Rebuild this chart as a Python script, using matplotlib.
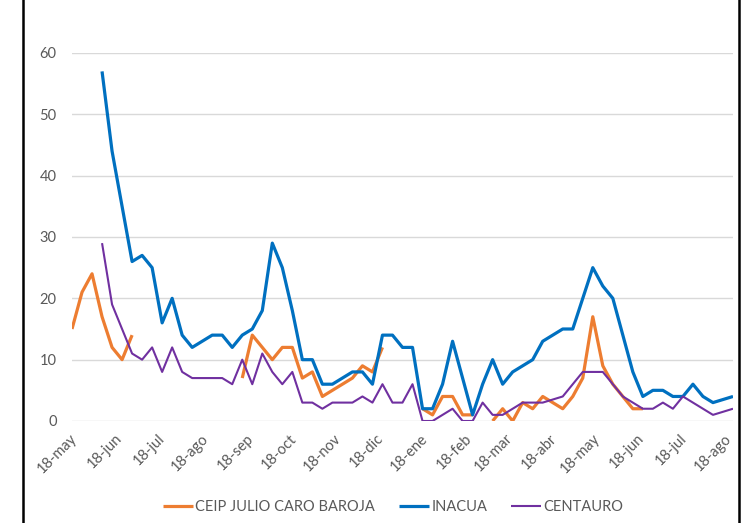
import numpy as np
import matplotlib
matplotlib.use("Agg")
import matplotlib.pyplot as plt
from matplotlib.lines import Line2D
from matplotlib.transforms import ScaledTranslation

nan = np.nan

# weekly readings, first week on 18 May
START = "2018-05-18"
N_WEEKS = 67

ceip = [15, 21, 24, 17, 12, 10, 14,
        nan, nan, nan, nan, nan, nan, nan, nan, nan, nan,
        7, 14, 12, 10, 12, 12, 7, 8, 4, 5, 6, 7, 9, 8, 12,
        nan, nan, nan,
        2, 1, 4, 4, 1, 1,
        nan,
        0, 2, 0, 3, 2, 4, 3, 2, 4, 7, 17, 9, 6, 4, 2, 2,
        nan, nan, nan, nan, nan, nan, nan, nan, nan]

inacua = [nan, nan, nan,
          57, 44, 35, 26, 27, 25, 16, 20, 14, 12, 13, 14, 14, 12, 14, 15, 18,
          29, 25, 18, 10, 10, 6, 6, 7, 8, 8, 6, 14, 14, 12, 12, 2, 2, 6, 13,
          7, 1, 6, 10, 6, 8, 9, 10, 13, 14, 15, 15, 20, 25, 22, 20, 14, 8, 4,
          5, 5, 4, 4, 6, 4, 3, 3.5, 4]

centauro = [nan, nan, nan,
            29, 19, 15, 11, 10, 12, 8, 12, 8, 7, 7, 7, 7, 6, 10, 6, 11,
            8, 6, 8, 3, 3, 2, 3, 3, 3, 4, 3, 6, 3, 3, 6, 0, 0, 1, 2,
            0, 0, 3, 1, 1, 2, 3, 3, 3, 3.5, 4, 6, 8, 8, 8, 6, 4, 3, 2,
            2, 3, 2, 4, 3, 2, 1, 1.5, 2]

series_names = ["CEIP JULIO CARO BAROJA", "INACUA", "CENTAURO"]
month_labels = ["18-may", "18-jun", "18-jul", "18-ago", "18-sep", "18-oct",
                "18-nov", "18-dic", "18-ene", "18-feb", "18-mar", "18-abr",
                "18-may", "18-jun", "18-jul", "18-ago"]
y_ticks = [0, 10, 20, 30, 40, 50, 60]

ORANGE = "#ED7D31"
BLUE = "#0070C0"
PURPLE = "#7030A0"
TEXT_GRAY = "#595959"
GRID_GRAY = "#D9D9D9"
FONT_SIZE = 10.5

plt.rcParams["font.family"] = ["Lato", "DejaVu Sans"]

dates = np.datetime64(START) + np.arange(N_WEEKS) * np.timedelta64(7, "D")
tick_dates = (np.arange(np.datetime64("2018-05"), np.datetime64("2019-09"))
              .astype("datetime64[D]") + np.timedelta64(17, "D"))

W, H = 745, 523
fig = plt.figure(figsize=(W / 100, H / 100), dpi=100)
ax = fig.add_axes([72 / W, 1 - 421 / H, (733 - 72) / W, (421 - 53) / H])

l1, = ax.plot(dates, ceip, color=ORANGE, lw=2.3, solid_capstyle="butt")
l2, = ax.plot(dates, inacua, color=BLUE, lw=2.3, solid_capstyle="butt")
l3, = ax.plot(dates, centauro, color=PURPLE, lw=1.5, solid_capstyle="butt")

ax.set_xlim(dates[0], dates[-1])
ax.set_ylim(0, 60)
ax.set_yticks(y_ticks)
ax.grid(axis="y", color=GRID_GRAY, lw=1)
ax.set_axisbelow(True)
for s in ax.spines.values():
    s.set_visible(False)

ax.set_xticks(tick_dates)
ax.set_xticklabels(month_labels, rotation=45, ha="right", va="center",
                   rotation_mode="anchor")
ax.tick_params(axis="both", length=0, labelsize=FONT_SIZE, colors=TEXT_GRAY)
ax.tick_params(axis="y", pad=11)
ax.tick_params(axis="x", pad=11)
for lab in ax.get_xticklabels():
    lab.set_transform(lab.get_transform() + ScaledTranslation(3 / 100, 0, fig.dpi_scale_trans))

fig.legend([l1, l2, l3], series_names, loc="center",
           bbox_to_anchor=(393 / W, 1 - 507 / H), ncol=3, frameon=False,
           fontsize=FONT_SIZE, labelcolor=TEXT_GRAY, handlelength=2.1,
           handletextpad=0.15, columnspacing=1.6)

# black frame edges visible at both sides
for xb in (23, 739):
    fig.add_artist(Line2D([xb / W, xb / W], [0, 1], transform=fig.transFigure,
                          color="black", lw=1.8))

fig.savefig("out.png", dpi=100)
